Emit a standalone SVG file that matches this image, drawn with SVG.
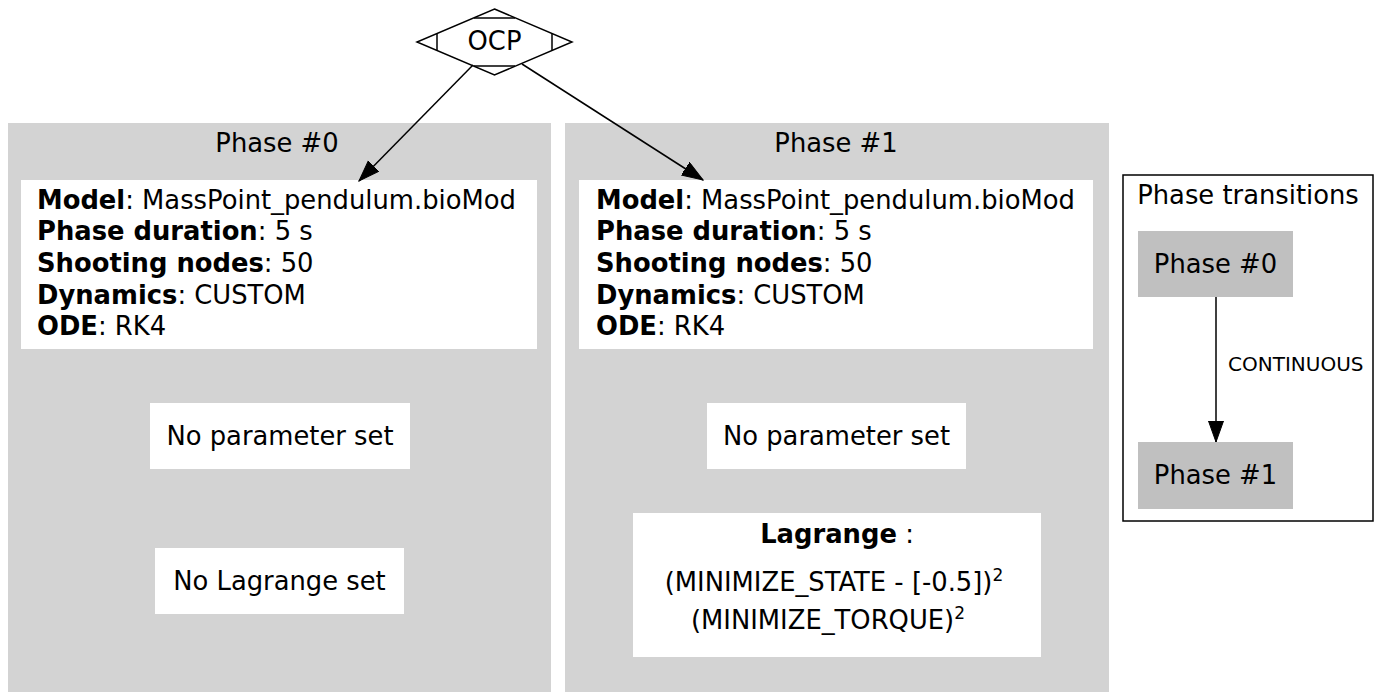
<svg xmlns="http://www.w3.org/2000/svg" width="1380" height="692" viewBox="0 0 1380 692">
<style>
text{font-family:"DejaVu Sans","Liberation Sans",sans-serif;font-size:25.8px;fill:#000}
.b{font-weight:bold}
.c{text-anchor:middle}
.cl{fill:#d3d3d3;stroke:none}
.wb{fill:#fff;stroke:none}
.gb{fill:#c0c0c0;stroke:none}
.edge{stroke:#000;stroke-width:1.5;fill:none}
.sm{font-size:20px}
.sup{font-size:17px}
</style>
<defs>
<marker id="ah" markerUnits="userSpaceOnUse" markerWidth="22" markerHeight="16" refX="21" refY="7.5" orient="auto">
<path d="M0,0 L21,7.5 L0,15 z" fill="#000" stroke="#000" stroke-width="1"/>
</marker>
</defs>
<rect width="1380" height="692" fill="#fff"/>

<g id="cluster_phase0">
<rect class="cl" x="8" y="123" width="543" height="580"/>
<text class="c" x="277" y="152">Phase #0</text>
</g>
<g id="cluster_phase1">
<rect class="cl" x="565" y="123" width="544" height="580"/>
<text class="c" x="836" y="152">Phase #1</text>
</g>

<g id="ocp">
<polygon points="494.5,9 572,42 494.5,75 417,42" fill="#fff" stroke="#000" stroke-width="1.5"/>
<line x1="474" y1="18" x2="515" y2="18" stroke="#000" stroke-width="1.5"/>
<line x1="474" y1="66" x2="515" y2="66" stroke="#000" stroke-width="1.5"/>
<line x1="437" y1="33.5" x2="437" y2="50.5" stroke="#000" stroke-width="1.5"/>
<line x1="552" y1="33.5" x2="552" y2="50.5" stroke="#000" stroke-width="1.5"/>
<text class="c" x="494.5" y="50">OCP</text>
</g>

<g id="p0_model">
<rect class="wb" x="21" y="180" width="516" height="169"/>
<text x="37" y="209"><tspan class="b">Model</tspan>: MassPoint_pendulum.bioMod</text>
<text x="37" y="240"><tspan class="b">Phase duration</tspan>: 5 s</text>
<text x="37" y="272"><tspan class="b">Shooting nodes</tspan>: 50</text>
<text x="37" y="304"><tspan class="b">Dynamics</tspan>: CUSTOM</text>
<text x="37" y="335"><tspan class="b">ODE</tspan>: RK4</text>
</g>
<g id="p0_param">
<rect class="wb" x="150" y="403" width="260" height="66"/>
<text class="c" x="280" y="445">No parameter set</text>
</g>
<g id="p0_lagrange">
<rect class="wb" x="155" y="548" width="249" height="66"/>
<text class="c" x="279.5" y="590">No Lagrange set</text>
</g>

<g id="p1_model">
<rect class="wb" x="579" y="180" width="514" height="169"/>
<text x="596" y="209"><tspan class="b">Model</tspan>: MassPoint_pendulum.bioMod</text>
<text x="596" y="240"><tspan class="b">Phase duration</tspan>: 5 s</text>
<text x="596" y="272"><tspan class="b">Shooting nodes</tspan>: 50</text>
<text x="596" y="304"><tspan class="b">Dynamics</tspan>: CUSTOM</text>
<text x="596" y="335"><tspan class="b">ODE</tspan>: RK4</text>
</g>
<g id="p1_param">
<rect class="wb" x="707" y="403" width="259" height="66"/>
<text class="c" x="836.5" y="445">No parameter set</text>
</g>
<g id="p1_lagrange">
<rect class="wb" x="633" y="513" width="408" height="144"/>
<text class="c" x="837" y="543"><tspan class="b">Lagrange</tspan> :</text>
<text class="c" x="834" y="591">(MINIMIZE_STATE - [-0.5])<tspan class="sup" dy="-10">2</tspan></text>
<text class="c" x="828" y="629">(MINIMIZE_TORQUE)<tspan class="sup" dy="-10">2</tspan></text>
</g>

<g id="phase_transitions">
<rect x="1123" y="175" width="250" height="346" fill="#fff" stroke="#000" stroke-width="1.5"/>
<text class="c" x="1248" y="204">Phase transitions</text>
</g>
<g id="pt_phase0">
<rect class="gb" x="1138" y="231" width="155" height="66"/>
<text class="c" x="1215.5" y="273">Phase #0</text>
</g>
<g id="pt_phase1">
<rect class="gb" x="1138" y="442" width="155" height="67"/>
<text class="c" x="1215.5" y="484">Phase #1</text>
</g>

<g id="connectors">
<path class="edge" d="M473,65 L359,181" marker-end="url(#ah)"/>
<path class="edge" d="M522,64 L703,180" marker-end="url(#ah)"/>
<path class="edge" d="M1216,297 L1216,442" marker-end="url(#ah)"/>
<text class="sm" x="1228" y="371">CONTINUOUS</text>
</g>
</svg>
